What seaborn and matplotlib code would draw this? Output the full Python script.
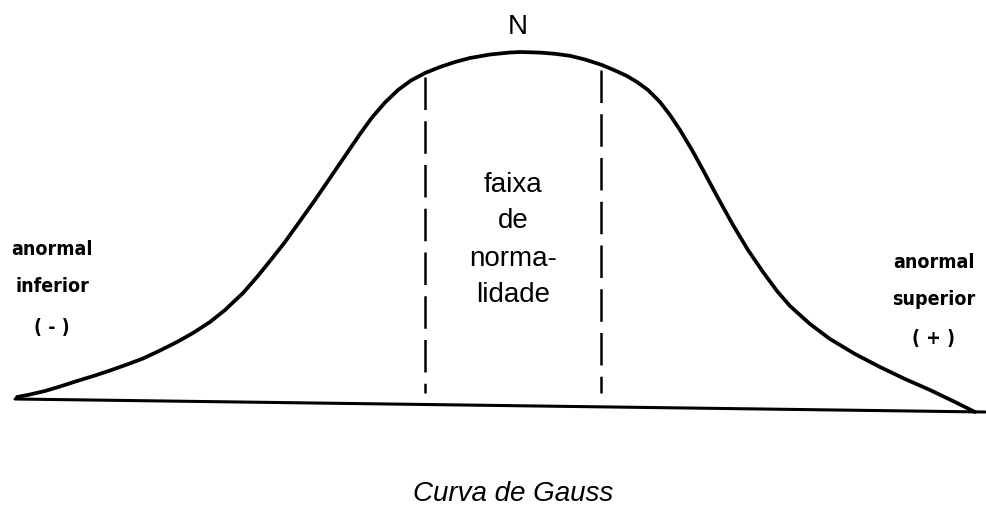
import matplotlib
matplotlib.use("Agg")
import matplotlib.pyplot as plt
from matplotlib import font_manager
import pandas as pd
import seaborn as sns

# Bell curve traced as (x, y) in drawing units (y grows downward)
curve_x = [17, 30, 45, 60, 77, 95, 110, 127, 143, 160, 177, 193, 210, 225, 243,
           257, 270, 285, 300, 315, 330, 345, 360, 372, 385, 398, 411, 425, 440,
           455, 470, 490, 510, 520, 540, 555, 570, 585, 602, 615, 627, 637, 648,
           660, 670, 680, 692, 703, 718, 733, 748, 763, 777, 790, 810, 830, 855,
           880, 905, 930, 955, 975]
curve_y = [397, 394.5, 391, 386.5, 381, 375.5, 370.5, 364.5, 358.5, 350.5, 342,
           333, 322, 310, 293, 277, 261, 242, 221, 200, 178, 156, 134, 117.5, 102.5,
           90, 80.5, 73, 67, 62, 58, 54.5, 52.5, 52, 52.6, 53.8, 55.8, 59.5, 65,
           70.5, 76, 82, 90, 102, 115, 130, 150, 170, 198, 225, 250, 272, 291,
           306, 324, 339, 354, 367, 379, 390, 402, 412]

# Baseline end points
base_x = [15, 985]
base_y = [399, 412]

# Limits of the normal range (dashed verticals)
limit_x = [425, 601]
limit_top = [77, 70]
limit_bottom = [393, 393]

peak_label = "N"
middle_label = "faixa\nde\nnorma-\nlidade"
left_lines = ["anormal", "inferior", "( - )"]
right_lines = ["anormal", "superior", "( + )"]
title_label = "Curva de Gauss"

sns.set_style("white")
available = {f.name for f in font_manager.fontManager.ttflist}
main_font = "Liberation Sans" if "Liberation Sans" in available else "DejaVu Sans"
plt.rcParams["font.family"] = [main_font, "DejaVu Sans"]

# Prefer a condensed bold face for the side labels
condensed = [f for f in font_manager.fontManager.ttflist
             if f.stretch in ("condensed", "semi-condensed", "extra-condensed")
             and (f.weight in ("bold", 700) or str(f.weight).isdigit() and int(f.weight) >= 600)
             and f.style == "normal"]
condensed.sort(key=lambda f: (0 if "Liberation" in f.name else 1 if "DejaVu" in f.name else 2))
if condensed:
    side_font = font_manager.FontProperties(fname=condensed[0].fname, size=14)
else:
    side_font = font_manager.FontProperties(family=main_font, weight="bold", size=14)

fig = plt.figure(figsize=(9.87, 5.14), dpi=100)
ax = fig.add_axes([0, 0, 1, 1])

curve = pd.DataFrame({"x": curve_x, "y": curve_y})
base = pd.DataFrame({"x": base_x, "y": base_y})

sns.lineplot(data=base, x="x", y="y", ax=ax, color="black", linewidth=2.2,
             sort=False, estimator=None)
sns.lineplot(data=curve, x="x", y="y", ax=ax, color="black", linewidth=2.7,
             sort=False, estimator=None)
for line in ax.lines:
    line.set_solid_joinstyle("round")

for lx, top, bot in zip(limit_x, limit_top, limit_bottom):
    ax.plot([lx, lx], [top, bot], color="black", linewidth=1.8,
            linestyle=(0, (13, 4.5)), dash_capstyle="butt")

ax.text(518, 27, peak_label, ha="center", va="center", fontsize=20, color="black")
ax.text(513, 240, middle_label, ha="center", va="center", fontsize=20,
        linespacing=1.55, color="black")

for text, y in zip(left_lines, [255, 292, 333]):
    ax.text(52, y, text, ha="center", va="baseline", fontproperties=side_font,
            color="black")
for text, y in zip(right_lines, [268, 305, 344]):
    ax.text(934, y, text, ha="center", va="baseline", fontproperties=side_font,
            color="black")

ax.text(513, 494, title_label, ha="center", va="center", fontsize=20,
        style="italic", color="black")

ax.set_xlim(0, 987)
ax.set_ylim(514, 0)
ax.set_axis_off()

fig.savefig("out.png", dpi=100, facecolor="white")
